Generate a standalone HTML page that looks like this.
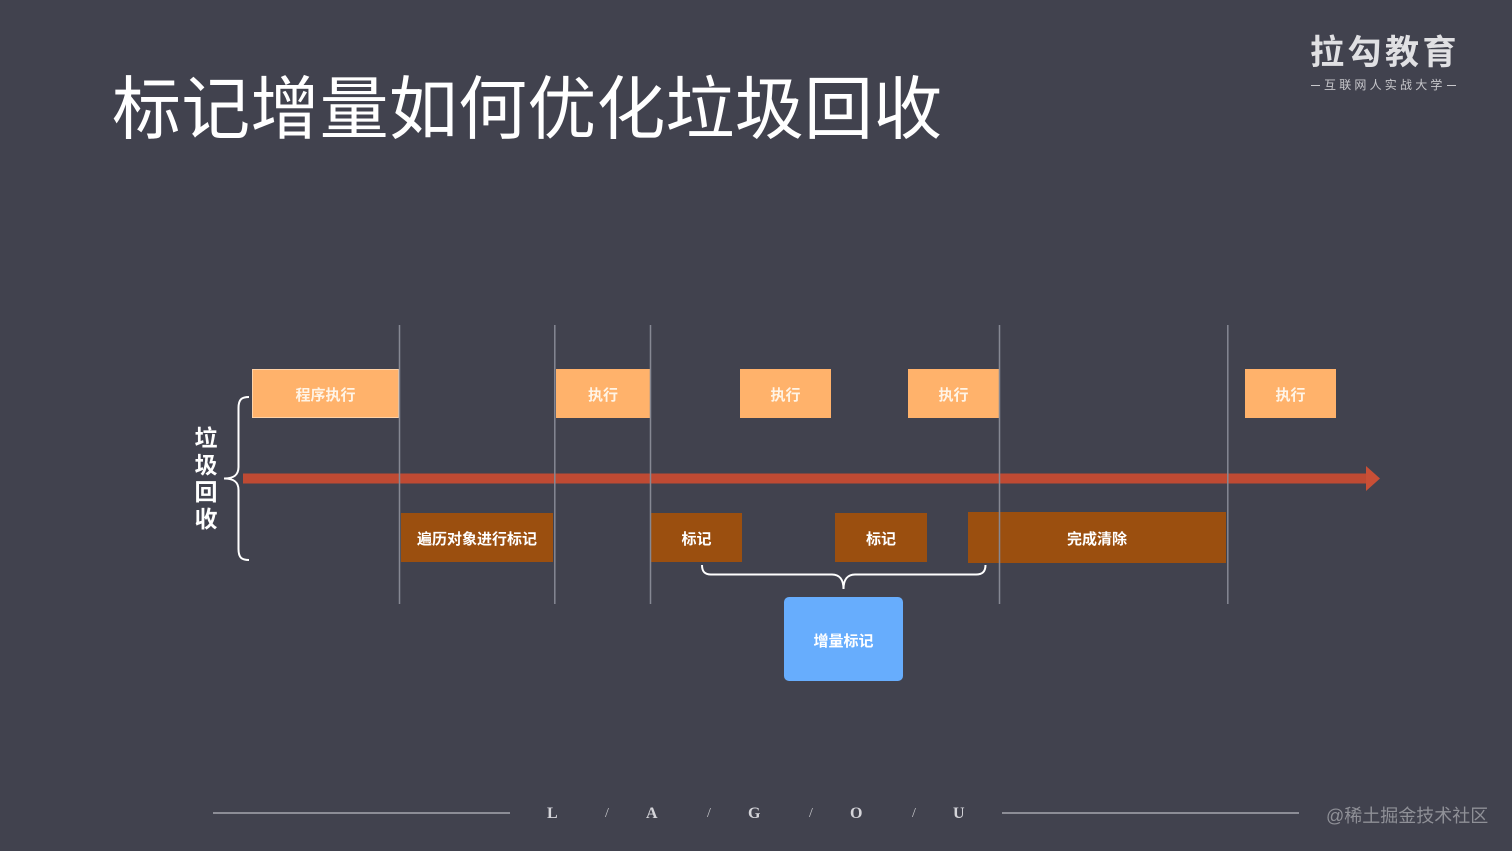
<!DOCTYPE html>
<html><head><meta charset="utf-8"><style>
html,body{margin:0;padding:0;background:#41424e}
#s{position:relative;width:1512px;height:851px;overflow:hidden;background:#41424e;font-family:"Liberation Sans","Noto Sans CJK SC",sans-serif;color:#fff;filter:blur(0.35px)}
.b{position:absolute;display:flex;align-items:center;justify-content:center;font-weight:700;font-size:15px;color:#fff;box-sizing:border-box;padding-top:2px}
.o{background:#ffb26b;color:#fff4e6}
.d{background:#9b4f0f}
.t{position:absolute;white-space:nowrap;line-height:1}
.l{font-family:'Liberation Serif',serif;font-size:16px;font-weight:700;color:#d4d4d9}
.s{font-family:'Liberation Serif',serif;font-size:14px;color:#c8c8cc}
svg{position:absolute;left:0;top:0}
</style></head><body><div id="s">
<div class="t" style="left:112px;top:75px;font-size:69px;letter-spacing:0.2px;color:#fff">标记增量如何优化垃圾回收</div>

<div class="t" style="left:1310px;top:36px;font-size:34px;font-weight:700;letter-spacing:3.5px;color:#e0e0e3">拉勾教育</div>
<div class="t" style="left:1324px;top:79px;font-size:12px;letter-spacing:3.2px;color:#c8c8cc">互联网人实战大学</div>

<div class="b o" style="left:252px;top:369px;width:147px;height:49px;border:1px solid #ffd2a6">程序执行</div>
<div class="b o" style="left:556px;top:369px;width:94px;height:49px">执行</div>
<div class="b o" style="left:740px;top:369px;width:91px;height:49px">执行</div>
<div class="b o" style="left:908px;top:369px;width:91px;height:49px">执行</div>
<div class="b o" style="left:1245px;top:369px;width:91px;height:49px">执行</div>

<div class="b d" style="left:401px;top:513px;width:152px;height:49px">遍历对象进行标记</div>
<div class="b d" style="left:651px;top:513px;width:91px;height:49px">标记</div>
<div class="b d" style="left:835px;top:513px;width:92px;height:49px">标记</div>
<div class="b d" style="left:968px;top:512px;width:258px;height:51px">完成清除</div>

<div class="b" style="left:784px;top:597px;width:119px;height:84px;background:#67adfd;border-radius:5px">增量标记</div>

<svg width="1512" height="851" viewBox="0 0 1512 851" fill="none">
<path d="M243 478.500H1367" stroke="#bf4a33" stroke-width="10"/>
<path d="M1366 466L1380 478.500L1366 491Z" fill="#c94f36"/>
<g stroke="#868893" stroke-width="1.500">
<path d="M399.500 325V604M554.800 325V604M650.500 325V604M999.500 325V604M1227.800 325V604"/>
</g>
<path d="M249 397C242 397 238.500 399 238.500 408V467C238.500 475 234 478.500 224 478.500C234 478.500 238.500 482 238.500 490V549C238.500 558 242 560 249 560" stroke="#fff" stroke-width="2"/>
<path d="M702 565C702 572 705 574.500 711 574.500H832C839 574.500 843.500 579 843.500 589C843.500 579 848 574.500 855 574.500H976C982 574.500 985.500 572 985.500 565" stroke="#fff" stroke-width="2"/>
<path d="M213 813H510M1002 813H1299" stroke="#a5a6ad" stroke-width="1.500"/>
<path d="M1311 85.500H1320M1447 85.500H1456" stroke="#c8c8cc" stroke-width="1"/>
</svg>

<div class="t" style="left:193px;top:425px;width:26px;font-size:23px;font-weight:700;line-height:27px;white-space:normal;text-align:center">垃<br>圾<br>回<br>收</div>

<div class="t l" style="left:547px;top:806px">L</div>
<div class="t s" style="left:605px;top:807px">/</div>
<div class="t l" style="left:646px;top:806px">A</div>
<div class="t s" style="left:707px;top:807px">/</div>
<div class="t l" style="left:748px;top:806px">G</div>
<div class="t s" style="left:809px;top:807px">/</div>
<div class="t l" style="left:850px;top:806px">O</div>
<div class="t s" style="left:912px;top:807px">/</div>
<div class="t l" style="left:953px;top:806px">U</div>

<div class="t" style="left:1326px;top:807px;font-size:18px;color:#8f9097">@稀土掘金技术社区</div>
</div></body></html>
